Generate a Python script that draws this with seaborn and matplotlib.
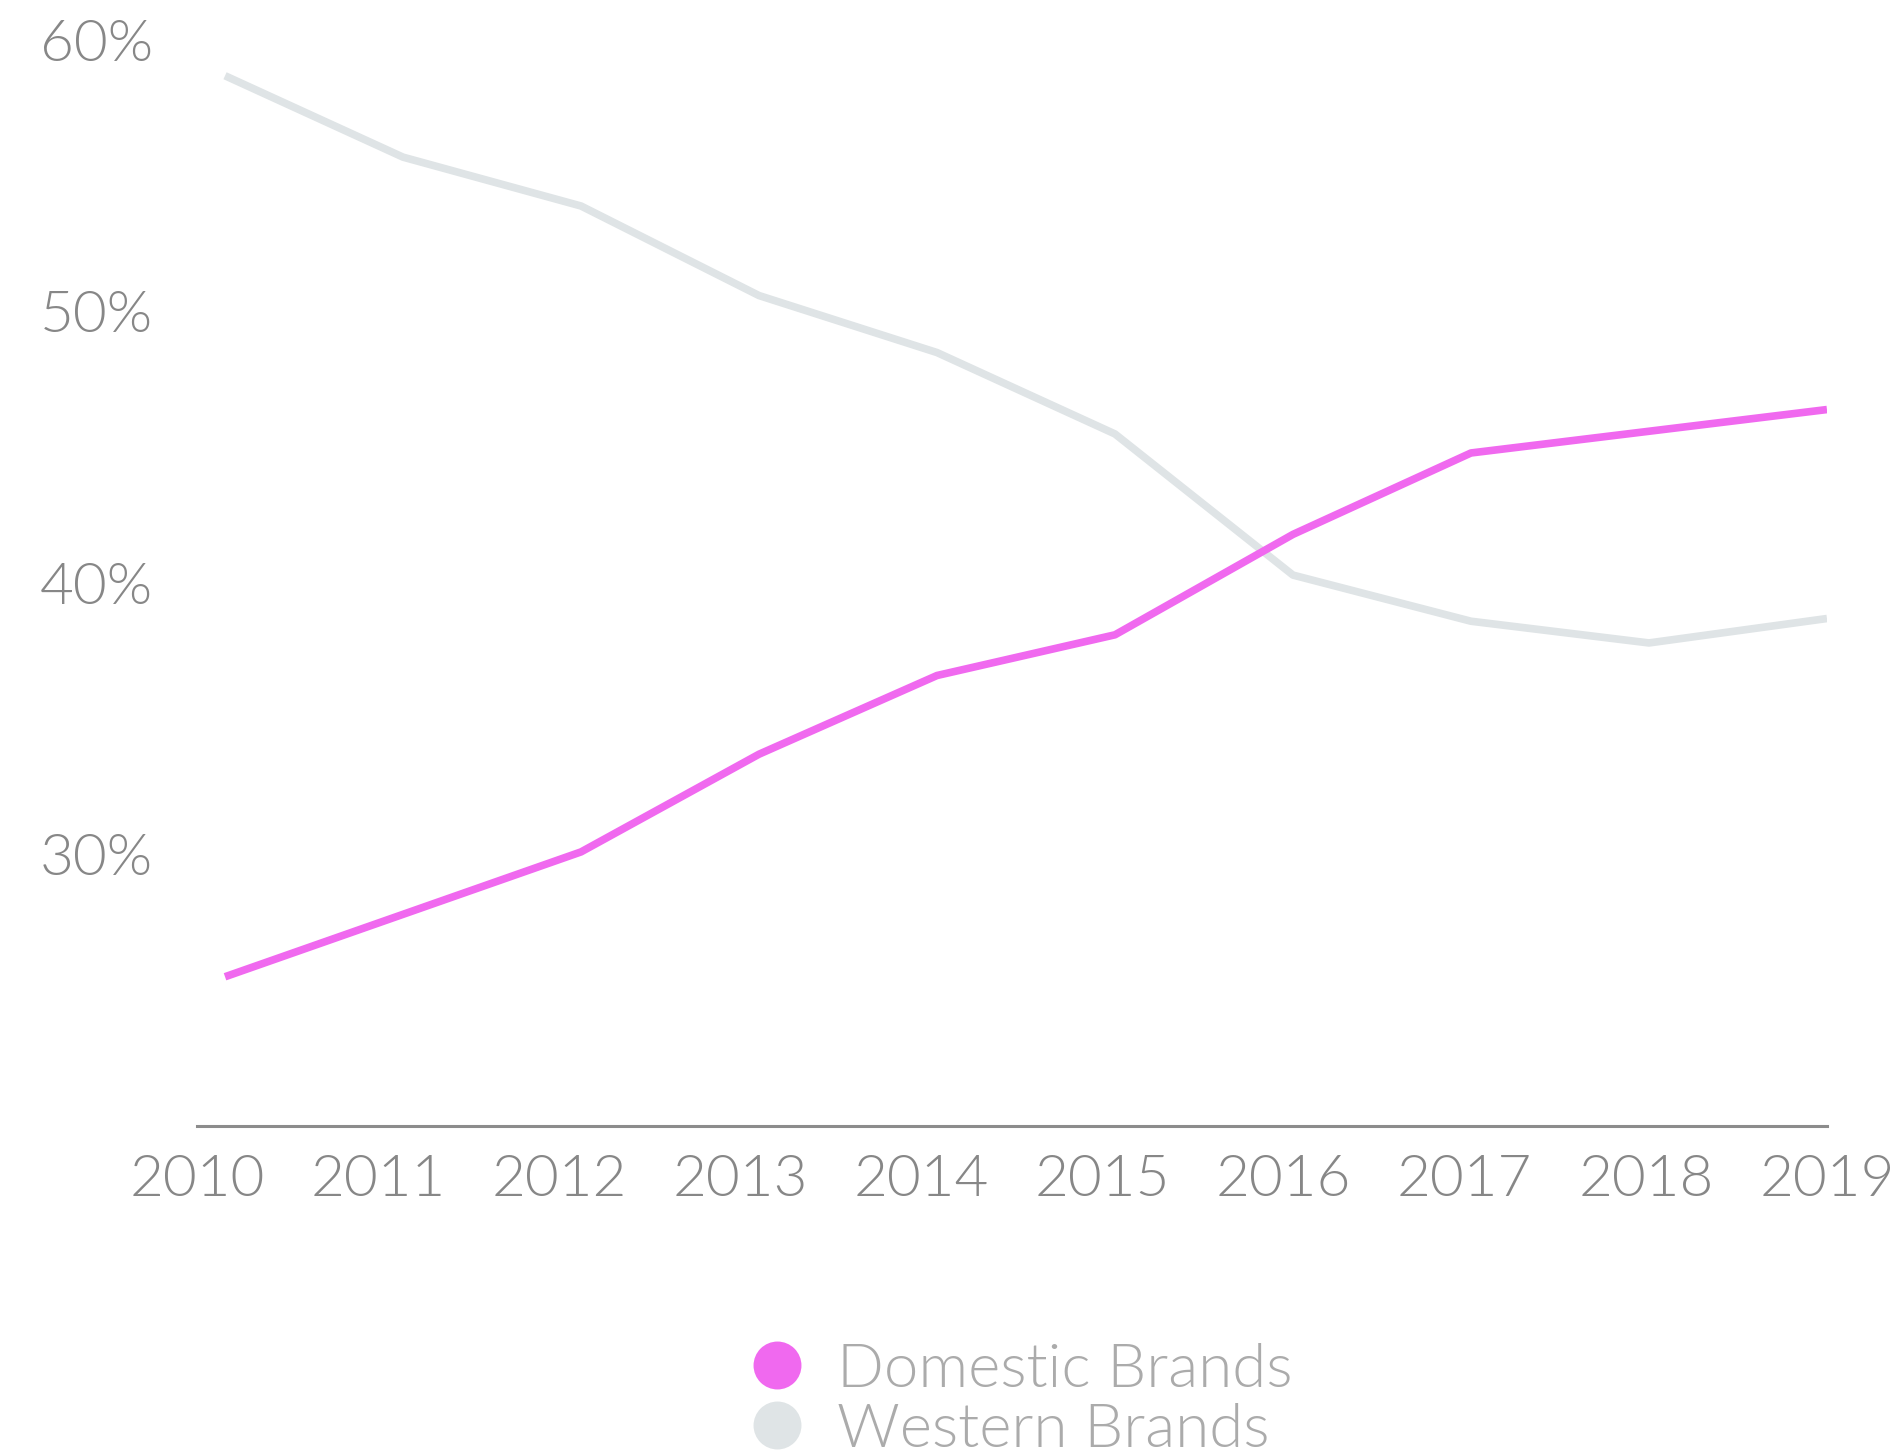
import pandas as pd
import numpy as np
import seaborn as sns
import matplotlib.pyplot as plt
from matplotlib.lines import Line2D

years = [2010, 2011, 2012, 2013, 2014, 2015, 2016, 2017, 2018, 2019]
domestic = [25.5, 27.8, 30.1, 33.7, 36.6, 38.1, 41.8, 44.8, 45.6, 46.4]
western = [58.7, 55.7, 53.9, 50.6, 48.5, 45.5, 40.3, 38.6, 37.8, 38.7]
y_ticks = [30, 40, 50, 60]
series_names = ['Domestic Brands', 'Western Brands']
colors = {'Domestic Brands': '#F069EF', 'Western Brands': '#DFE4E6'}

df = pd.DataFrame({'year': years * 2,
                   'share': domestic + western,
                   'brand': ['Domestic Brands'] * len(years) + ['Western Brands'] * len(years)})

sns.set_style('white')
plt.rcParams['font.family'] = ['Lato', 'DejaVu Sans']
plt.rcParams['font.weight'] = 300

fig = plt.figure(figsize=(18.95, 14.55), dpi=100)
ax = fig.add_axes([0.104, 0.2261, 0.8601, 0.7461])

# western drawn first so the pink line sits on top at the crossing
sns.lineplot(ax=ax, data=df, x='year', y='share', hue='brand',
             hue_order=['Western Brands', 'Domestic Brands'], palette=colors,
             linewidth=5.5, legend=False)
for ln in ax.lines:
    ln.set_solid_capstyle('butt')

x_left = years[0] - 0.157
ax.set_xlim(x_left, years[-1])
ax.set_ylim(20, 60)
ax.set_xticks(np.linspace(x_left, years[-1], len(years)))
ax.set_xticklabels([str(y) for y in years])
ax.set_yticks(y_ticks)
ax.set_yticklabels([f'{t}%' for t in y_ticks])
ax.set_xlabel('')
ax.set_ylabel('')

for s in ['top', 'right', 'left']:
    ax.spines[s].set_visible(False)
ax.spines['bottom'].set_color('#8C8C8C')
ax.spines['bottom'].set_linewidth(2.2)
ax.spines['bottom'].set_zorder(0)

ax.tick_params(axis='x', length=0, pad=21, labelsize=42, labelcolor='#878787')
ax.tick_params(axis='y', length=0, pad=32, labelsize=42, labelcolor='#878787')
ax.grid(False)

handles = [Line2D([], [], linestyle='none', marker='o', markersize=34.5,
                  markerfacecolor=colors[n], markeredgecolor='none') for n in series_names]
leg = fig.legend(handles=handles, labels=series_names, loc='center left',
                 bbox_to_anchor=(0.3974, 0.0375), frameon=False,
                 fontsize=44.5, handlelength=0.78, handletextpad=0.58,
                 labelspacing=0.08, borderpad=0, borderaxespad=0)
for t in leg.get_texts():
    t.set_color('#ABABAB')

plt.savefig('out.png', dpi=100)
plt.close()
